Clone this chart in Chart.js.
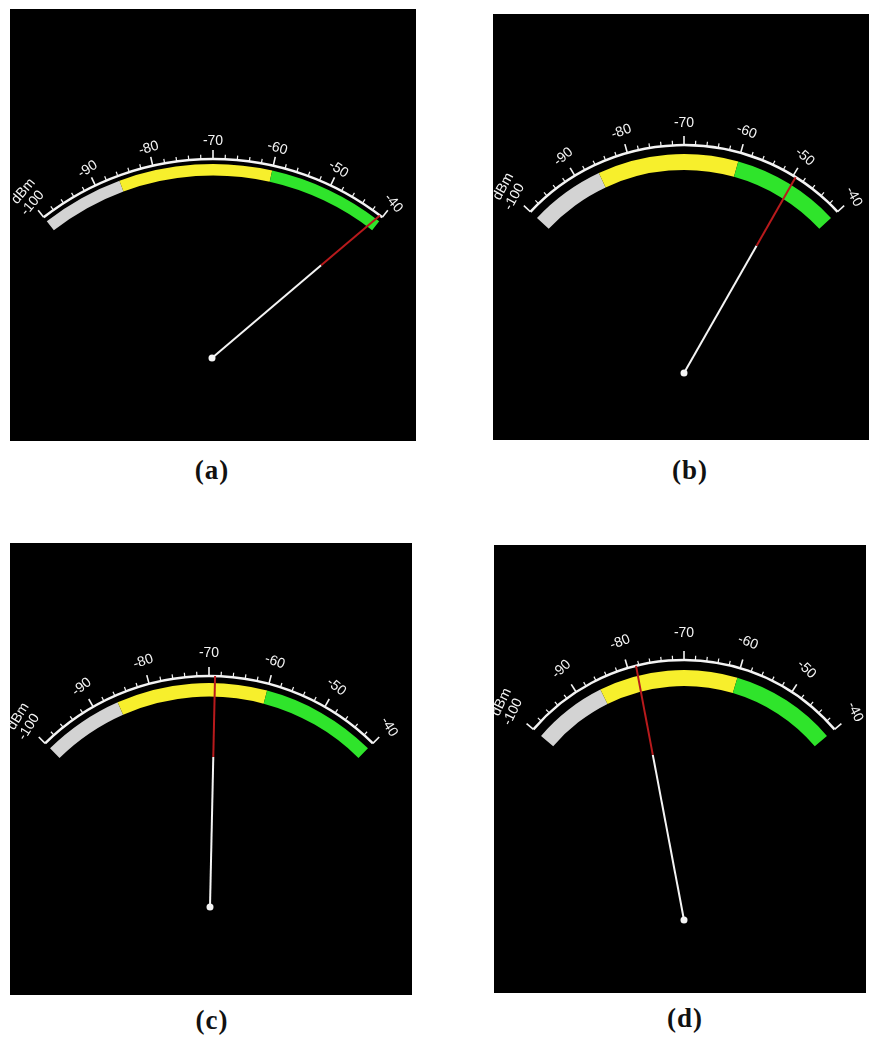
<!DOCTYPE html>
<html>
<head>
<meta charset="utf-8">
<script src="https://cdn.jsdelivr.net/npm/chart.js@4.4.1/dist/chart.umd.min.js"></script>
<style>
  html, body { margin:0; padding:0; background:#fff; }
  #page { position:relative; width:869px; height:1047px; overflow:hidden; }
  .panel { position:absolute; background:#000; display:block; }
  .cap { position:absolute; width:120px; text-align:center; font:bold 27px "Liberation Serif","Times New Roman",serif; color:#111; line-height:30px; letter-spacing:1px; }
</style>
</head>
<body>
<div id="page"></div>
<script>
// signal strength scale (dBm)
const scaleTicks = [-100, -90, -80, -70, -60, -50, -40];
const tickLabels = ['-100', '-90', '-80', '-70', '-60', '-50', '-40'];
const minorStep = 2;
const unitLabel = 'dBm';

// colour zones on the dial
const zoneNames = ['weak', 'fair', 'good'];
const zoneFrom = [-100, -86, -60];
const zoneTo = [-86, -60, -40];

// needle reading of each screenshot
const captions = ['(a)', '(b)', '(c)', '(d)'];
const readings = [-40.5, -49.5, -69, -78.5];

const zoneColors = ['#d3d3d3', '#f7ef2c', '#2fe42b'];
const needleRed = '#b81a1c';

// each screenshot was taken at a different size, so every dial has its own geometry
const dials = [
  { box:[10, 9, 406, 432],   cx:203, cy:425, r:275, half:38,   gap:5,  band:11.5, lab:18, pivot:[202, 349], cap:[152, 455] },
  { box:[493, 14, 376, 426], cx:191, cy:341, r:210, half:47,   gap:9,  band:16,   lab:22, pivot:[191, 359], cap:[630, 455] },
  { box:[10, 543, 402, 452], cx:199, cy:366, r:233, half:44.7, gap:7,  band:13.5, lab:23, pivot:[200, 364], cap:[152, 1005] },
  { box:[494, 545, 372, 448],cx:190, cy:313, r:198, half:49.5, gap:10, band:16,   lab:27, pivot:[190, 375], cap:[625, 1003] }
];

const page = document.getElementById('page');

function dialPlugin(i) {
  const g = dials[i];
  return {
    id: 'dial' + i,
    afterDatasetsDraw(chart) {
      const ctx = chart.ctx;
      const arcs = chart.getDatasetMeta(0).data;
      const cx = arcs[0].x, cy = arcs[0].y;
      const R = arcs[0].outerRadius + g.gap;
      const a0 = arcs[0].startAngle, a1 = arcs[arcs.length - 1].endAngle;
      const v0 = zoneFrom[0], v1 = zoneTo[zoneTo.length - 1];
      const ang = v => a0 + (v - v0) / (v1 - v0) * (a1 - a0);
      const pt = (r, a) => ({ x: cx + r * Math.cos(a), y: cy + r * Math.sin(a) });

      ctx.save();
      ctx.strokeStyle = '#f4f4f4';
      ctx.fillStyle = '#f4f4f4';
      ctx.lineCap = 'butt';

      // scale line
      ctx.lineWidth = 2.5;
      ctx.beginPath();
      ctx.arc(cx, cy, R, ang(v0), ang(v1));
      ctx.stroke();

      // ticks
      for (let v = v0; v <= v1 + 1e-6; v += minorStep) {
        const major = scaleTicks.includes(v);
        const a = ang(v);
        const p1 = pt(R, a), p2 = pt(R + (major ? 9 : 4.5), a);
        ctx.lineWidth = major ? 1.6 : 1.2;
        ctx.beginPath();
        ctx.moveTo(p1.x, p1.y);
        ctx.lineTo(p2.x, p2.y);
        ctx.stroke();
      }

      // labels, turned a little steeper than the tangent like the original
      ctx.font = '14px "Liberation Sans", Arial, sans-serif';
      ctx.textAlign = 'center';
      ctx.textBaseline = 'middle';
      const top = (a0 + a1) / 2;
      const txt = (s, r, v) => {
        const a = ang(v), p = pt(r, a);
        ctx.save();
        ctx.translate(p.x, p.y);
        ctx.rotate((a - top) * 1.3);
        ctx.fillText(s, 0, 0);
        ctx.restore();
      };
      scaleTicks.forEach((v, k) => txt(tickLabels[k], R + g.lab, v));
      txt(unitLabel, R + g.lab + 15, v0);

      // needle
      const tip = pt(R, ang(readings[i]));
      const [px, py] = g.pivot;
      const mid = { x: px + (tip.x - px) * 0.65, y: py + (tip.y - py) * 0.65 };
      ctx.lineWidth = 2;
      ctx.strokeStyle = '#f4f4f4';
      ctx.beginPath(); ctx.moveTo(px, py); ctx.lineTo(mid.x, mid.y); ctx.stroke();
      ctx.strokeStyle = needleRed;
      ctx.beginPath(); ctx.moveTo(mid.x, mid.y); ctx.lineTo(tip.x, tip.y); ctx.stroke();
      ctx.beginPath();
      ctx.arc(px, py, 3.5, 0, Math.PI * 2);
      ctx.fill();
      ctx.restore();
    }
  };
}

dials.forEach((g, i) => {
  const [left, top, W, H] = g.box;
  const cv = document.createElement('canvas');
  cv.className = 'panel';
  cv.width = W; cv.height = H;
  cv.style.left = left + 'px'; cv.style.top = top + 'px';
  cv.style.width = W + 'px'; cv.style.height = H + 'px';
  page.appendChild(cv);

  const cap = document.createElement('div');
  cap.className = 'cap';
  cap.textContent = captions[i];
  cap.style.left = g.cap[0] + 'px'; cap.style.top = g.cap[1] + 'px';
  page.appendChild(cap);

  // band ring sits just inside the scale line
  const outer = g.r - g.gap;
  const cut = (outer - g.band) / outer;
  const h = g.half * Math.PI / 180;
  // doughnut centre = chart area centre + outer*(1 + cut*cos h)/2 for an arc symmetric about the top
  const mid = g.cy - outer * (1 + cut * Math.cos(h)) / 2;
  const pad = {
    left: Math.max(0, 2 * g.cx - W), right: Math.max(0, W - 2 * g.cx),
    top: Math.max(0, 2 * mid - H), bottom: Math.max(0, H - 2 * mid)
  };

  new Chart(cv, {
    type: 'doughnut',
    data: {
      labels: zoneNames,
      datasets: [{
        data: zoneTo.map((t, k) => t - zoneFrom[k]),
        backgroundColor: zoneColors,
        borderWidth: 0,
        rotation: -g.half,
        circumference: 2 * g.half,
        cutout: (cut * 100) + '%',
        radius: outer
      }]
    },
    options: {
      responsive: false, maintainAspectRatio: false, animation: false, events: [],
      rotation: -g.half, circumference: 2 * g.half, cutout: (cut * 100) + '%', radius: outer,
      layout: { padding: pad },
      plugins: { legend: { display: false }, tooltip: { enabled: false } }
    },
    plugins: [dialPlugin(i)]
  });
});
</script>
</body>
</html>
